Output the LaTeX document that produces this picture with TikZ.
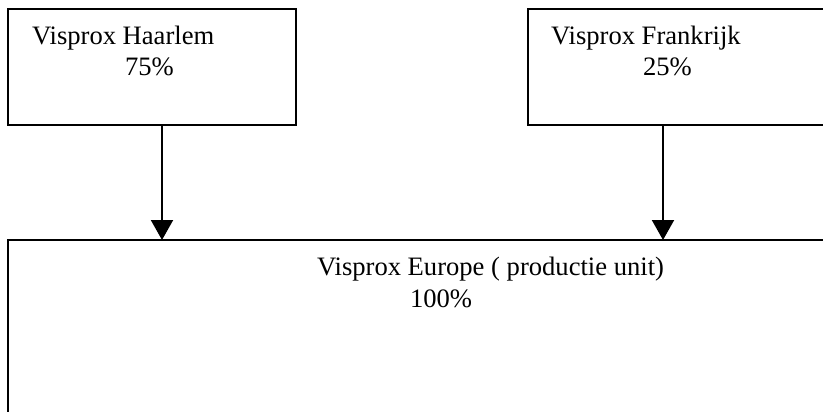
\documentclass[tikz,border=0pt]{standalone}
\usepackage{fontspec}
\setmainfont{Liberation Serif}
\usetikzlibrary{arrows.meta}
\begin{document}
\begin{tikzpicture}[x=1pt,y=-1pt,
  every node/.style={inner sep=0pt,outer sep=0pt},
  unitbox/.style={draw=black,line width=2pt,rectangle,anchor=north west},
  label/.style={anchor=base west,font=\fontsize{26.6}{32}\selectfont},
  feed/.style={draw=black,line width=2pt,-{Triangle[width=22pt,length=20pt]}}]
\useasboundingbox (0,0) rectangle (823,412);
\clip (0,0) rectangle (823,412);
\fill[white] (0,0) rectangle (823,412);
% shareholder boxes
\node[unitbox,minimum width=288pt,minimum height=116pt] (hl) at (8,9) {};
\node[unitbox,minimum width=320pt,minimum height=116pt] (fr) at (528,9) {};
% production unit box
\node[unitbox,minimum width=840pt,minimum height=200pt] (eu) at (8,240) {};
% labels
\node[label] (hlname) at (32,45) {Visprox Haarlem};
\node[label] (hlpct) at (125,76) {75\%};
\node[label] (frname) at (551,45) {Visprox Frankrijk};
\node[label] (frpct) at (643,76) {25\%};
\node[label] (euname) at (317,275) {Visprox Europe ( productie unit)};
\node[label] (eupct) at (410,307) {100\%};
% ownership arrows
\coordinate (hlout) at (hl.south -| 162,0);
\coordinate (frout) at (fr.south -| 663,0);
\draw[feed] (hlout) -- (hlout |- eu.north);
\draw[feed] (frout) -- (frout |- eu.north);
\end{tikzpicture}
\end{document}
